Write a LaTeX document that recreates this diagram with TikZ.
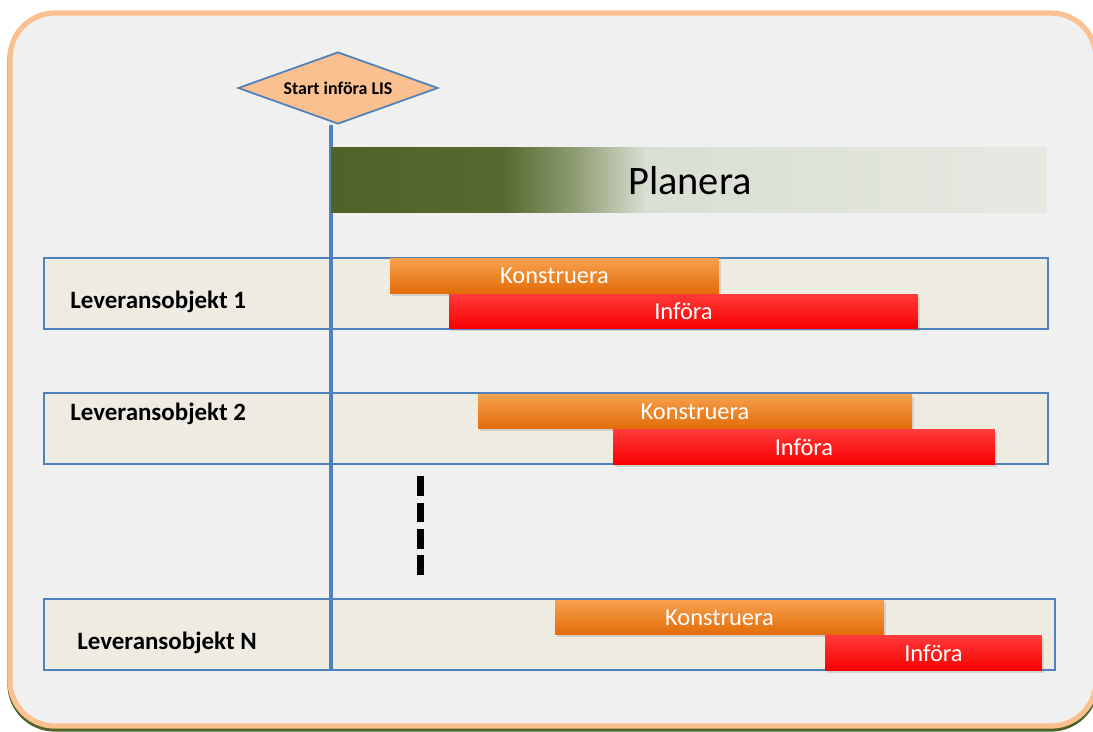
\documentclass[tikz,border=0pt]{standalone}
\usepackage{fontspec}
\setmainfont{Carlito}
\usetikzlibrary{shapes.geometric,shadows}
\definecolor{frameorange}{HTML}{FAC08F}
\definecolor{panelgray}{HTML}{F0F0F0}
\definecolor{linkblue}{HTML}{4F81BD}
\definecolor{rowfill}{HTML}{EEECE1}
\definecolor{plandark}{HTML}{4F6228}
\definecolor{plandark2}{HTML}{56692F}
\definecolor{planmid}{HTML}{8E9C73}
\definecolor{planlight}{HTML}{D9DFD2}
\definecolor{planpale}{HTML}{E6E9E2}
\definecolor{konorange}{HTML}{E36C09}
\definecolor{konlight}{HTML}{F7A04D}
\definecolor{infred}{HTML}{F80000}
\definecolor{inflight}{HTML}{FF3A3A}
\pgfdeclarehorizontalshading{planshade}{100bp}{color(0bp)=(plandark); color(25bp)=(plandark); color(37bp)=(plandark2); color(42bp)=(planmid); color(47bp)=(planlight); color(75bp)=(planpale); color(100bp)=(planpale)}
\begin{document}
\begin{tikzpicture}[x=0.02cm,y=-0.02cm]
	\tikzstyle{every node}=[font=\fontsize{13.9}{16}\selectfont]
	\tikzstyle{rowbox}=[draw=linkblue,fill=rowfill,line width=1pt,minimum height=1.42cm,inner sep=0pt]
	\tikzstyle{rowlabel}=[anchor=west,inner sep=0pt,font=\fontsize{14.2}{17}\selectfont\bfseries]
	\tikzstyle{konbar}=[top color=konlight,bottom color=konorange,text=white,minimum height=0.69cm,inner sep=0pt,drop shadow={opacity=0.25,shadow xshift=1pt,shadow yshift=-1.5pt}]
	\tikzstyle{infbar}=[konbar,top color=inflight,bottom color=infred]
	\useasboundingbox (0,0) rectangle (1093,731);
	% frame
	\draw [plandark,line width=3pt,rounded corners=0.9cm] (10,16) rectangle (1096,729);
	\draw [frameorange,fill=panelgray,line width=3pt,rounded corners=0.9cm] (10,13) rectangle (1096,726);
	% rows
	\node [rowbox,minimum width=20.08cm] (row1) at (546,293.5) {};
	\node [rowbox,minimum width=20.08cm] (row2) at (546,428.5) {};
	\node [rowbox,minimum width=20.22cm] (rowN) at (549.5,634.5) {};
	\node [rowlabel] (lab1) at (70,302) {Leveransobjekt 1};
	\node [rowlabel] (lab2) at (70,414) {Leveransobjekt 2};
	\node [rowlabel] (labN) at (77,643) {Leveransobjekt N};
	% start and time axis
	\node [diamond,draw=linkblue,fill=frameorange,line width=1pt,minimum width=4cm,minimum height=1.44cm,aspect=2.78,inner sep=0pt,font=\fontsize{10.2}{12}\selectfont\bfseries] (start) at (338,88) {Start införa LIS};
	\coordinate (axisEnd) at (331,670);
	\draw [linkblue,line width=2pt] (start.south -| axisEnd) -- (axisEnd);
	% planera
	\shade [shading=planshade] (331,147) rectangle (1047,212);
	\node [font=\fontsize{23}{26}\selectfont] (plan) at (690,181) {Planera};
	% bars
	\node [konbar,minimum width=6.58cm] (kon1) at (554.5,276) {Konstruera};
	\node [infbar,minimum width=9.38cm] (inf1) at (683.5,311.5) {Införa};
	\node [konbar,minimum width=8.68cm] (kon2) at (695,411.5) {Konstruera};
	\node [infbar,minimum width=7.64cm] (inf2) at (804,447) {Införa};
	\node [konbar,minimum width=6.58cm] (konN) at (719.5,617.5) {Konstruera};
	\node [infbar,minimum width=4.34cm] (infN) at (933.5,653) {Införa};
	% more rows
	\coordinate (gapTop) at (420,476);
	\coordinate (gapBot) at (420,575);
	\draw [line width=0.14cm,dash pattern=on 0.4cm off 0.13cm] (gapTop) -- (gapBot);
\end{tikzpicture}
\end{document}
